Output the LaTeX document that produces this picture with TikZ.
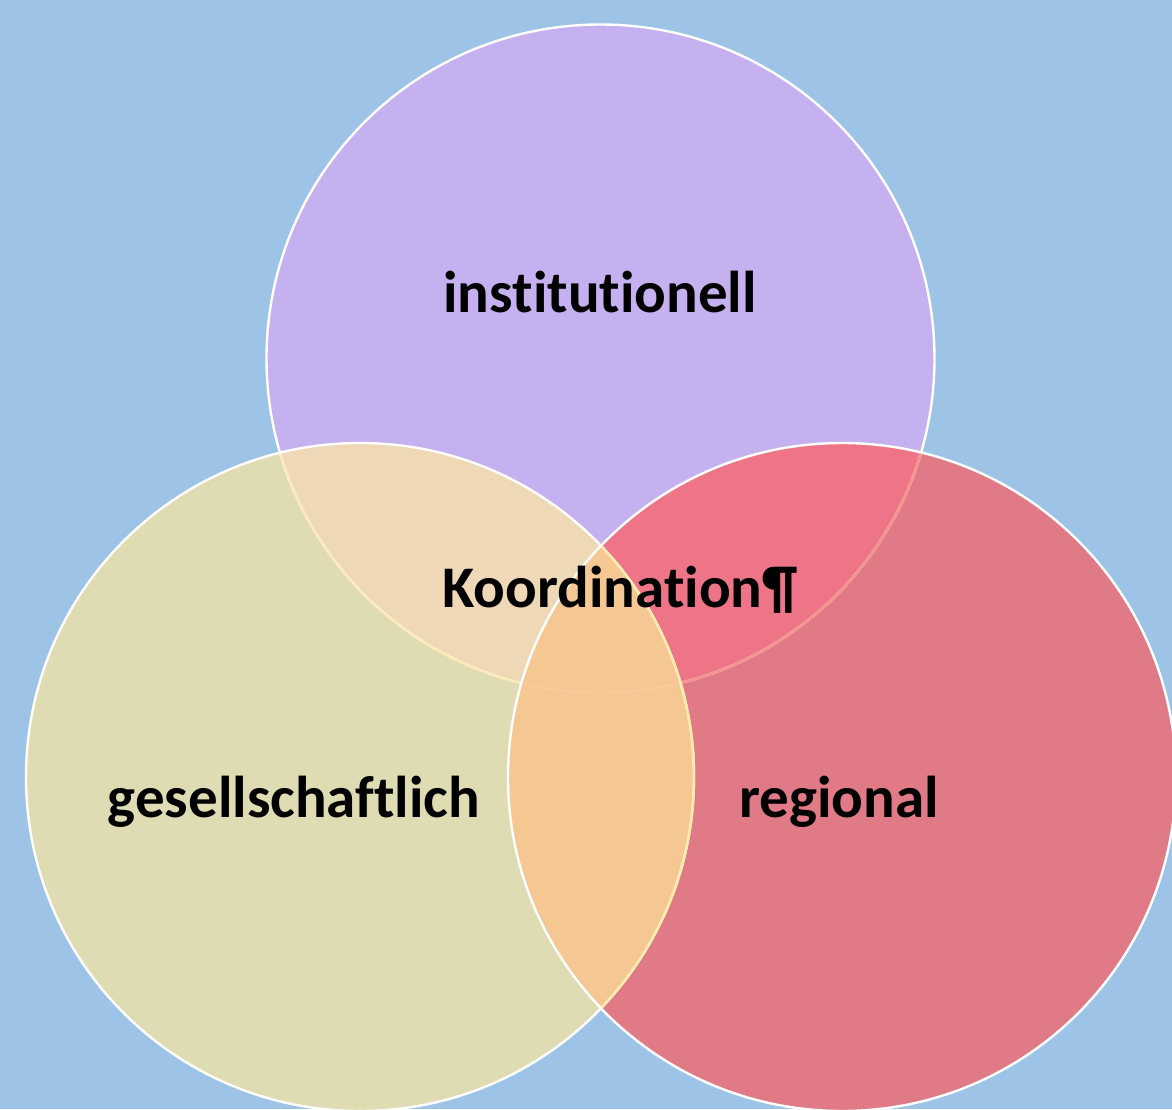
\documentclass[tikz,border=0pt]{standalone}
\usepackage{fontspec}
\setmainfont{Carlito}[Ligatures={NoCommon,NoContextual}]
\definecolor{bgblue}{HTML}{9DC3E6}
\definecolor{ctop}{HTML}{C5B1F0}
\definecolor{cleft}{HTML}{DFDBB2}
\definecolor{cright}{HTML}{E07A86}
\definecolor{ctl}{HTML}{EED8B6}
\definecolor{ctr}{HTML}{EE7587}
\definecolor{clr}{HTML}{F5C793}
\begin{document}
\begin{tikzpicture}[x=0.5pt,y=-0.5pt,line join=round,line cap=round,
    lbl/.style={inner sep=0pt,anchor=base,font=\fontsize{29.5}{35}\selectfont\bfseries}]
	\useasboundingbox (0,0) rectangle (1172,1109);
	\fill[bgblue] (0,0) rectangle (1172,1109);
	\coordinate (T) at (600.5,358.5);
	\coordinate (L) at (360,777);
	\coordinate (R) at (842,777);
	\def\rad{334}
	% plain circles
	\fill[ctop] (T) circle (\rad);
	\fill[cleft] (L) circle (\rad);
	\fill[cright] (R) circle (\rad);
	% overlaps
	\begin{scope}
		\clip (T) circle (\rad);
		\fill[ctl] (L) circle (\rad);
		\fill[ctr] (R) circle (\rad);
	\end{scope}
	\begin{scope}
		\clip (L) circle (\rad);
		\fill[clr] (R) circle (\rad);
	\end{scope}
	% outlines
	\draw[white,line width=1.2pt] (T) circle (\rad);
	\begin{scope}
		\clip (L) circle (\rad);
		\draw[color={rgb,255:red,252;green,234;blue,184},line width=1.2pt] (T) circle (\rad);
	\end{scope}
	\begin{scope}
		\clip (R) circle (\rad);
		\draw[color={rgb,255:red,246;green,146;blue,140},line width=1.2pt] (T) circle (\rad);
		\clip (L) circle (\rad);
		\draw[color={rgb,255:red,249;green,203;blue,150},line width=1.2pt] (T) circle (\rad);
	\end{scope}
	\draw[white,line width=1.2pt] (L) circle (\rad);
	\begin{scope}
		\clip (R) circle (\rad);
		\draw[color={rgb,255:red,253;green,236;blue,168},line width=1.2pt] (L) circle (\rad);
	\end{scope}
	\draw[white,line width=1.2pt] (R) circle (\rad);
	% labels
	\node[lbl] (inst) at (600,312) {institutionell};
	\node[lbl] (koord) at (620,607) {Koordination¶};
	\node[lbl] (ges) at (294,817) {gesellschaftlich};
	\node[lbl] (reg) at (839,817) {regional};
\end{tikzpicture}
\end{document}
